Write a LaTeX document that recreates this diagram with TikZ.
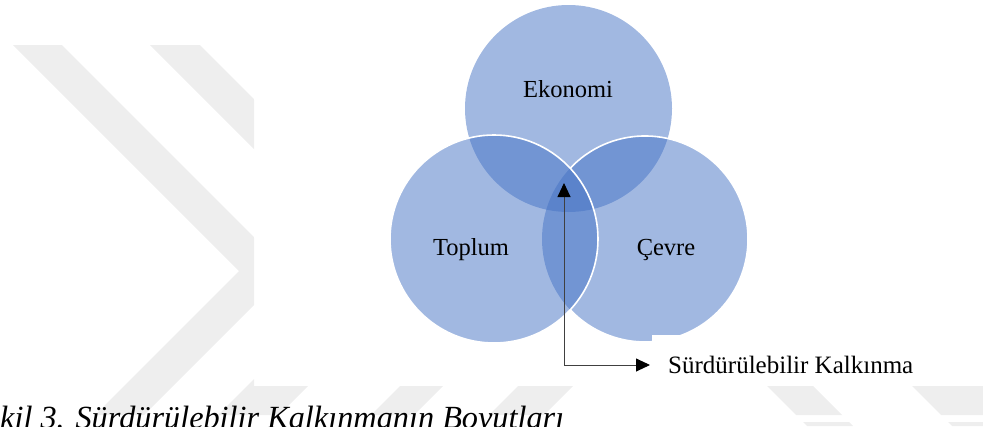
\documentclass[tikz,border=0pt]{standalone}
\usepackage{fontspec}
\setmainfont{Liberation Serif}
\usetikzlibrary{arrows.meta}
\definecolor{wm}{RGB}{238,238,238}
\definecolor{vblue}{RGB}{68,114,196}
\begin{document}
\begin{tikzpicture}[x=1pt,y=-1pt,
  wmark/.style={fill=wm},
  disc/.style={fill=vblue, fill opacity=0.5},
  rim/.style={draw=white, line width=1.6pt},
  lab/.style={inner sep=0pt, text=black, font=\fontsize{24.5}{28}\selectfont},
  conn/.style={draw=black!75, line width=0.9pt,
    {Triangle[length=14pt,width=13pt,color=black]}-{Triangle[length=14pt,width=13pt,color=black]}}]
\useasboundingbox (0,0) rectangle (983,426);
% watermark (visible left of the figure and below it)
\begin{scope}
  \clip (0,0) -- (254,0) -- (254,386) -- (983,386) -- (983,415) -- (0,415) -- cycle
        (760,422) rectangle (983,426);
  \fill[wmark] (13,45) -- (62,45) -- (288,271) -- (133,426) -- (84,426) -- (239,271) -- cycle;
  \fill[wmark] (150,45) -- (200,45) -- (424.5,269.5) -- (268,426) -- (207,426) -- (369,264) -- cycle;
  \fill[wmark] (400,386) -- (443,386) -- (403,426) -- (360,426) -- cycle;
  \fill[wmark] (518,386) -- (573,386) -- (533,426) -- (478,426) -- cycle;
  \fill[wmark] (767,386) -- (813,386) -- (853,426) -- (807,426) -- cycle;
  \fill[wmark] (912,386) -- (995,386) -- (1035,426) -- (952,426) -- cycle;
\end{scope}
% circles
\fill[disc] (568.5,108.5) circle[radius=103.5pt];
\fill[disc] (494,239) circle[radius=104pt];
\fill[disc] (645,239) circle[radius=103pt];
\draw[rim] (494,239) circle[radius=104pt];
\draw[rim] (570.19,168.2) arc[start angle=136.6, end angle=-136.6, radius=103pt];
\fill[white] (652,335) rectangle (775,352);
% labels
\node[lab, anchor=base] (eko) at (568,97) {Ekonomi};
\node[lab, anchor=base] (top) at (471,255) {Toplum};
\node[lab, anchor=base] (cev) at (666,255) {Çevre};
\node[lab, anchor=west, font=\fontsize{25}{28}\selectfont] (lbl) at (668,365) {Sürdürülebilir Kalkınma};
\coordinate (sk) at (564,183);
\draw[conn, shorten >=18pt] (sk) |- (lbl);
% caption
\node[inner sep=0pt, anchor=base west, font=\fontsize{32.3}{36}\selectfont\itshape] (cap) at (0,428) {kil 3. Sürdürülebilir Kalkınmanın Boyutları};
\end{tikzpicture}
\end{document}
